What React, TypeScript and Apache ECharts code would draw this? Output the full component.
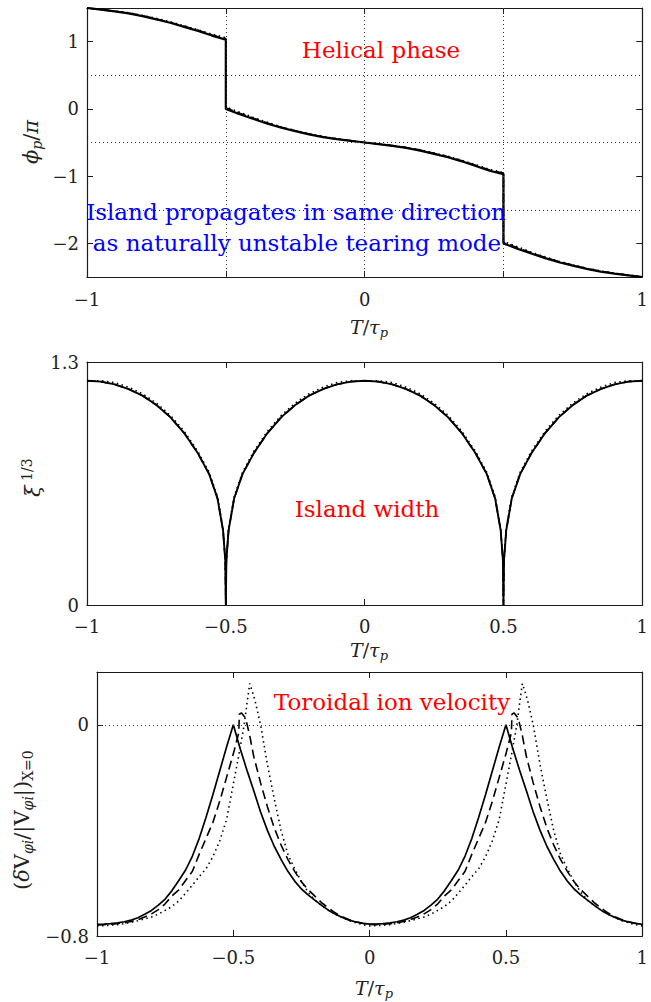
import React, { useEffect, useRef } from "react";
import * as echarts from "echarts";

// ---------- Panel 1: helical phase ----------
const PHASE_X = [-1, -0.95, -0.9, -0.85, -0.8, -0.75, -0.7, -0.65, -0.6, -0.55, -0.5, -0.5, -0.45, -0.4, -0.35, -0.3, -0.25, -0.2, -0.15, -0.1, -0.05, 0, 0.05, 0.1, 0.15, 0.2, 0.25, 0.3, 0.35, 0.4, 0.45, 0.5, 0.5, 0.55, 0.6, 0.65, 0.7, 0.75, 0.8, 0.85, 0.9, 0.95, 1];
const PHASE_SOLID = [1.5, 1.475, 1.45, 1.42, 1.38, 1.33, 1.28, 1.22, 1.16, 1.09, 1.03, 0.0, -0.08, -0.15, -0.22, -0.28, -0.33, -0.38, -0.42, -0.45, -0.475, -0.5, -0.525, -0.55, -0.58, -0.62, -0.67, -0.72, -0.78, -0.85, -0.92, -0.97, -2.0, -2.08, -2.15, -2.22, -2.28, -2.33, -2.38, -2.42, -2.45, -2.475, -2.5];
const PHASE_DASHED = [1.5, 1.477, 1.452, 1.423, 1.385, 1.335, 1.285, 1.227, 1.168, 1.1, 1.045, 0.015, -0.065, -0.14, -0.21, -0.275, -0.325, -0.375, -0.415, -0.447, -0.473, -0.5, -0.523, -0.547, -0.575, -0.613, -0.662, -0.712, -0.77, -0.84, -0.91, -0.955, -1.985, -2.065, -2.14, -2.21, -2.272, -2.325, -2.375, -2.415, -2.447, -2.473, -2.5];
const PHASE_DOTTED = [1.5, 1.48, 1.455, 1.43, 1.39, 1.345, 1.295, 1.235, 1.175, 1.11, 1.06, 0.03, -0.05, -0.13, -0.2, -0.27, -0.32, -0.37, -0.41, -0.445, -0.47, -0.5, -0.52, -0.545, -0.575, -0.61, -0.655, -0.705, -0.765, -0.83, -0.9, -0.95, -1.97, -2.05, -2.13, -2.2, -2.265, -2.32, -2.37, -2.41, -2.445, -2.47, -2.5];
const PHASE_GRID_Y = [0.5, -0.5, -1.5];
const PHASE_GRID_X = [-0.5, 0, 0.5];
const PHASE_TICKS_Y = [-2, -1, 0, 1];
const PHASE_LABELS_X = [-1, 0, 1];

// ---------- Panel 2: island width ----------
const WIDTH_X = [-1, -0.95, -0.9, -0.85, -0.8, -0.75, -0.7, -0.65, -0.6, -0.56, -0.53, -0.51, -0.502, -0.5, -0.498, -0.49, -0.47, -0.44, -0.4, -0.35, -0.3, -0.25, -0.2, -0.15, -0.1, -0.05, 0, 0.05, 0.1, 0.15, 0.2, 0.25, 0.3, 0.35, 0.4, 0.44, 0.47, 0.49, 0.498, 0.5, 0.502, 0.51, 0.53, 0.56, 0.6, 0.65, 0.7, 0.75, 0.8, 0.85, 0.9, 0.95, 1];
const WIDTH_SOLID = [1.2, 1.195, 1.18, 1.155, 1.12, 1.07, 1.005, 0.92, 0.81, 0.7, 0.57, 0.4, 0.24, 0, 0.24, 0.4, 0.57, 0.7, 0.81, 0.92, 1.005, 1.07, 1.12, 1.155, 1.18, 1.195, 1.2, 1.195, 1.18, 1.155, 1.12, 1.07, 1.005, 0.92, 0.81, 0.7, 0.57, 0.4, 0.24, 0, 0.24, 0.4, 0.57, 0.7, 0.81, 0.92, 1.005, 1.07, 1.12, 1.155, 1.18, 1.195, 1.2];
const WIDTH_DOTTED = [1.2, 1.2, 1.19, 1.165, 1.13, 1.08, 1.015, 0.93, 0.82, 0.71, 0.58, 0.41, 0.24, 0, 0.24, 0.41, 0.58, 0.71, 0.82, 0.93, 1.015, 1.08, 1.13, 1.165, 1.19, 1.2, 1.2, 1.2, 1.19, 1.165, 1.13, 1.08, 1.015, 0.93, 0.82, 0.71, 0.58, 0.41, 0.24, 0, 0.24, 0.41, 0.58, 0.71, 0.82, 0.93, 1.015, 1.08, 1.13, 1.165, 1.19, 1.2, 1.2];
const WIDTH_TICKS_Y = [0, 1.3];
const HALF_TICKS_X = [-1, -0.5, 0, 0.5, 1];

// ---------- Panel 3: toroidal ion velocity ----------
const VEL_X_SOLID = [
  -1, -0.975, -0.95, -0.925, -0.9, -0.875, -0.85, -0.825, -0.8, -0.775, -0.75, -0.725, -0.7, -0.675, -0.65, -0.625, -0.6, -0.575, -0.55, -0.525, -0.5,
  -0.475, -0.45, -0.425, -0.4, -0.375, -0.35, -0.325, -0.3, -0.275, -0.25, -0.225, -0.2, -0.175, -0.15, -0.125, -0.1, -0.075, -0.05, -0.025, 0,
  0.025, 0.05, 0.075, 0.1, 0.125, 0.15, 0.175, 0.2, 0.225, 0.25, 0.275, 0.3, 0.325, 0.35, 0.375, 0.4, 0.425, 0.45, 0.475, 0.5,
  0.525, 0.55, 0.575, 0.6, 0.625, 0.65, 0.675, 0.7, 0.725, 0.75, 0.775, 0.8, 0.825, 0.85, 0.875, 0.9, 0.925, 0.95, 0.975, 1,
];
const VEL_SOLID = [
  -0.756, -0.755, -0.753, -0.75, -0.746, -0.74, -0.731, -0.718, -0.703, -0.683, -0.66, -0.628, -0.59, -0.55, -0.497, -0.43, -0.35, -0.265, -0.175, -0.085, 0.0,
  -0.09, -0.172, -0.25, -0.33, -0.4, -0.46, -0.51, -0.555, -0.592, -0.622, -0.645, -0.665, -0.685, -0.703, -0.718, -0.73, -0.74, -0.747, -0.752, -0.755,
  -0.755, -0.753, -0.75, -0.746, -0.74, -0.731, -0.718, -0.703, -0.683, -0.66, -0.628, -0.59, -0.55, -0.497, -0.43, -0.35, -0.265, -0.175, -0.085, 0.0,
  -0.09, -0.172, -0.25, -0.33, -0.4, -0.46, -0.51, -0.555, -0.592, -0.622, -0.645, -0.665, -0.685, -0.703, -0.718, -0.73, -0.74, -0.747, -0.752, -0.756,
];
const VEL_X_DASHED = [
  -1, -0.975, -0.95, -0.925, -0.9, -0.875, -0.85, -0.825, -0.8, -0.775, -0.75, -0.725, -0.7, -0.675, -0.65, -0.625, -0.6, -0.575, -0.55, -0.525, -0.5,
  -0.48, -0.478, -0.47, -0.455, -0.44,
  -0.425, -0.4, -0.375, -0.35, -0.325, -0.3, -0.275, -0.25, -0.225, -0.2, -0.175, -0.15, -0.125, -0.1, -0.075, -0.05, -0.025, 0,
  0.025, 0.05, 0.075, 0.1, 0.125, 0.15, 0.175, 0.2, 0.225, 0.25, 0.275, 0.3, 0.325, 0.35, 0.375, 0.4, 0.425, 0.45, 0.475, 0.5,
  0.52, 0.522, 0.53, 0.545, 0.56,
  0.575, 0.6, 0.625, 0.65, 0.675, 0.7, 0.725, 0.75, 0.775, 0.8, 0.825, 0.85, 0.875, 0.9, 0.925, 0.95, 0.975, 1,
];
const VEL_DASHED = [
  -0.758, -0.757, -0.755, -0.753, -0.75, -0.745, -0.738, -0.728, -0.716, -0.7, -0.678, -0.648, -0.625, -0.59, -0.555, -0.49, -0.43, -0.37, -0.29, -0.2, -0.11,
  -0.03, 0.04, 0.045, 0.025, -0.04,
  -0.12, -0.22, -0.31, -0.39, -0.455, -0.51, -0.555, -0.595, -0.625, -0.65, -0.675, -0.695, -0.713, -0.727, -0.738, -0.746, -0.752, -0.756,
  -0.757, -0.755, -0.753, -0.75, -0.745, -0.738, -0.728, -0.716, -0.7, -0.678, -0.648, -0.625, -0.59, -0.555, -0.49, -0.43, -0.37, -0.29, -0.2, -0.11,
  -0.03, 0.04, 0.045, 0.025, -0.04,
  -0.12, -0.22, -0.31, -0.39, -0.455, -0.51, -0.555, -0.595, -0.625, -0.65, -0.675, -0.695, -0.713, -0.727, -0.738, -0.746, -0.752, -0.758,
];
const VEL_X_DOTTED = [
  -1, -0.975, -0.95, -0.925, -0.9, -0.875, -0.85, -0.825, -0.8, -0.775, -0.75, -0.725, -0.7, -0.675, -0.65, -0.625, -0.6, -0.575, -0.55, -0.525, -0.5,
  -0.48, -0.46, -0.45, -0.44, -0.43, -0.42,
  -0.4, -0.375, -0.35, -0.325, -0.3, -0.275, -0.25, -0.225, -0.2, -0.175, -0.15, -0.125, -0.1, -0.075, -0.05, -0.025, 0,
  0.025, 0.05, 0.075, 0.1, 0.125, 0.15, 0.175, 0.2, 0.225, 0.25, 0.275, 0.3, 0.325, 0.35, 0.375, 0.4, 0.425, 0.45, 0.475, 0.5,
  0.52, 0.54, 0.55, 0.56, 0.57, 0.58,
  0.6, 0.625, 0.65, 0.675, 0.7, 0.725, 0.75, 0.775, 0.8, 0.825, 0.85, 0.875, 0.9, 0.925, 0.95, 0.975, 1,
];
const VEL_DOTTED = [
  -0.762, -0.761, -0.759, -0.757, -0.753, -0.748, -0.742, -0.735, -0.728, -0.717, -0.703, -0.688, -0.667, -0.638, -0.607, -0.575, -0.545, -0.5, -0.44, -0.36, -0.225,
  -0.115, 0.0, 0.08, 0.156, 0.125, 0.09,
  0.0, -0.15, -0.28, -0.4, -0.49, -0.545, -0.595, -0.635, -0.665, -0.685, -0.703, -0.718, -0.73, -0.742, -0.75, -0.757, -0.762,
  -0.761, -0.759, -0.757, -0.753, -0.748, -0.742, -0.735, -0.728, -0.717, -0.703, -0.688, -0.667, -0.638, -0.607, -0.575, -0.545, -0.5, -0.44, -0.36, -0.225,
  -0.115, 0.0, 0.08, 0.156, 0.125, 0.09,
  0.0, -0.15, -0.28, -0.4, -0.49, -0.545, -0.595, -0.635, -0.665, -0.685, -0.703, -0.718, -0.73, -0.742, -0.75, -0.757, -0.762,
];
const VEL_GRID_Y = [0];
const VEL_TICKS_Y = [-0.8, 0];

const FONT = "DejaVu Serif";
const AXIS_COLOR = "#1a1a1a";

const fmt = (v: number) => (v < 0 ? "\u2212" + String(-v) : String(v));
const pairs = (xs: number[], ys: number[]) => xs.map((x, i) => [x, ys[i]]);

function xAxisPair(gi: number, labels: number[], ticks: number[], margin: number) {
  const common = {
    type: "value",
    gridIndex: gi,
    min: -1,
    max: 1,
    splitLine: { show: false },
    axisLine: { show: true, onZero: false, lineStyle: { color: AXIS_COLOR, width: 1.2 } },
    axisTick: { show: true, inside: true, length: 6, customValues: ticks, lineStyle: { color: AXIS_COLOR, width: 1 } },
  };
  return [
    {
      ...common,
      position: "bottom",
      axisLabel: { show: true, customValues: labels, formatter: fmt, fontFamily: FONT, fontSize: 18, color: "#222", margin },
    },
    { ...common, position: "top", axisLabel: { show: false } },
  ];
}

function yAxisPair(gi: number, min: number, max: number, ticks: number[]) {
  const common = {
    type: "value",
    gridIndex: gi,
    min,
    max,
    splitLine: { show: false },
    axisLine: { show: true, onZero: false, lineStyle: { color: AXIS_COLOR, width: 1.2 } },
    axisTick: { show: true, inside: true, length: 6, customValues: ticks, lineStyle: { color: AXIS_COLOR, width: 1 } },
  };
  return [
    {
      ...common,
      position: "left",
      axisLabel: { show: true, customValues: ticks, formatter: fmt, fontFamily: FONT, fontSize: 18, color: "#222", margin: 8 },
    },
    { ...common, position: "right", axisLabel: { show: false } },
  ];
}

function lines(xi: number, yi: number, solid: number[][], dashed: number[][], dotted: number[][], w: number) {
  const base = { type: "line", xAxisIndex: xi, yAxisIndex: yi, showSymbol: false, symbol: "none", z: 3 };
  return [
    { ...base, data: dotted, lineStyle: { color: "#000", width: 1.6, type: [1.5, 3.5], cap: "butt" } },
    { ...base, data: dashed, lineStyle: { color: "#000", width: 1.6, type: [9, 5] } },
    { ...base, data: solid, lineStyle: { color: "#000", width: w } },
  ];
}

function gridLines(xi: number, yi: number, ys: number[], xs: number[]) {
  return {
    type: "line",
    xAxisIndex: xi,
    yAxisIndex: yi,
    data: [],
    z: 1,
    markLine: {
      silent: true,
      symbol: "none",
      label: { show: false },
      lineStyle: { color: "#333", width: 1, type: [1, 3] },
      data: [...ys.map((v) => ({ yAxis: v })), ...xs.map((v) => ({ xAxis: v }))],
    },
  };
}

function makeRich(size: number) {
  const s = Math.round(size * 0.68);
  return {
    n: { fontFamily: FONT, fontSize: size, fill: "#222", lineHeight: size + 5 },
    i: { fontFamily: FONT, fontSize: size, fontStyle: "italic", fill: "#222", lineHeight: size + 5 },
    sub: { fontFamily: FONT, fontSize: s, fontStyle: "italic", fill: "#222", lineHeight: s, verticalAlign: "bottom" },
    subn: { fontFamily: FONT, fontSize: s, fill: "#222", lineHeight: s, verticalAlign: "bottom" },
    sup: { fontFamily: FONT, fontSize: s, fill: "#222", lineHeight: s, verticalAlign: "top" },
  };
}

function xTitle(x: number, y: number, text: string) {
  return {
    type: "text",
    x,
    y,
    z: 10,
    style: { text, rich: makeRich(19), align: "center", verticalAlign: "middle", textAlign: "center", textVerticalAlign: "middle" },
  };
}

// rotated y-axis title: (x, y) is where the text starts (its bottom end)
function yTitle(x: number, y: number, text: string, size: number) {
  return {
    type: "text",
    x,
    y,
    rotation: Math.PI / 2,
    z: 10,
    style: { text, rich: makeRich(size), align: "left", verticalAlign: "middle", textAlign: "left", textVerticalAlign: "middle" },
  };
}

function note(x: number, y: number, text: string, color: string) {
  return {
    type: "text",
    x,
    y,
    z: 10,
    style: {
      text,
      fill: color,
      font: "23px " + FONT,
      align: "center",
      verticalAlign: "middle",
      textAlign: "center",
      textVerticalAlign: "middle",
    },
  };
}

export default function App() {
  const ref = useRef<HTMLDivElement>(null);
  useEffect(() => {
    const chart = echarts.init(ref.current!, null, { renderer: "svg" });
    const xName = "{i|T}{n|/}{i|τ}{sub|p}";
    const option: any = {
      animation: false,
      backgroundColor: "#fff",
      grid: [
        { left: 87, top: 8, width: 564, height: 269 },
        { left: 87, top: 362, width: 564, height: 243 },
        { left: 97, top: 672, width: 554, height: 264 },
      ],
      xAxis: [
        ...xAxisPair(0, PHASE_LABELS_X, HALF_TICKS_X, 13),
        ...xAxisPair(1, HALF_TICKS_X, HALF_TICKS_X, 12),
        ...xAxisPair(2, HALF_TICKS_X, HALF_TICKS_X, 12),
      ],
      yAxis: [
        ...yAxisPair(0, -2.5, 1.5, PHASE_TICKS_Y),
        ...yAxisPair(1, 0, 1.3, WIDTH_TICKS_Y),
        ...yAxisPair(2, -0.8, 0.2, VEL_TICKS_Y),
      ],
      series: [
        gridLines(0, 0, PHASE_GRID_Y, PHASE_GRID_X),
        ...lines(0, 0, pairs(PHASE_X, PHASE_SOLID), pairs(PHASE_X, PHASE_DASHED), pairs(PHASE_X, PHASE_DOTTED), 2.2),
        ...lines(2, 2, pairs(WIDTH_X, WIDTH_SOLID), pairs(WIDTH_X, WIDTH_SOLID), pairs(WIDTH_X, WIDTH_DOTTED), 1.9),
        gridLines(4, 4, VEL_GRID_Y, []),
        ...lines(4, 4, pairs(VEL_X_SOLID, VEL_SOLID), pairs(VEL_X_DASHED, VEL_DASHED), pairs(VEL_X_DOTTED, VEL_DOTTED), 1.7),
      ],
      graphic: [
        note(381, 50, "Helical phase", "#ff0000"),
        note(296, 212, "Island propagates in same direction", "#0000ff"),
        note(297, 243, "as naturally unstable tearing mode", "#0000ff"),
        note(367, 509, "Island width", "#ff0000"),
        note(392, 702, "Toroidal ion velocity", "#ff0000"),
        xTitle(369, 327, xName),
        xTitle(369, 650, xName),
        xTitle(374, 988, xName),
        yTitle(31, 164, "{i|ϕ}{sub|p}{n|/}{i|π}", 21),
        yTitle(33, 497, "{i|ξ}{sup| 1/3}", 21),
        yTitle(22, 890, "{n|(}{i|δ}{n|V}{sub|φi}{n|/|V}{sub|φi}{n||)}{subn|X=0}", 21),
      ],
    };
    chart.setOption(option);
    return () => chart.dispose();
  }, []);
  return (
    <div
      ref={ref}
      style={{ position: "absolute", left: 0, top: 0, width: 651, height: 1002, background: "#fff" }}
    />
  );
}
